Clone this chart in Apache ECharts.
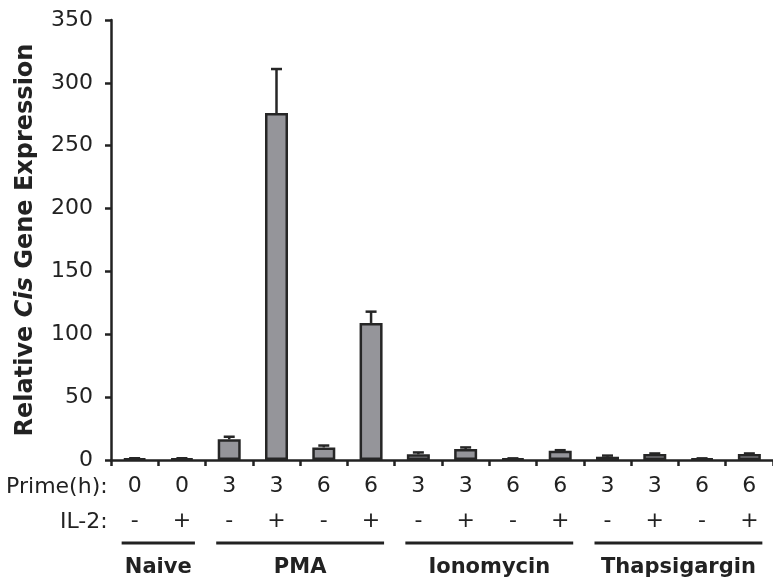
<!DOCTYPE html>
<html><head><meta charset="utf-8">
<script src="https://cdn.jsdelivr.net/npm/echarts@6/dist/echarts.min.js"></script>
<style>html,body{margin:0;padding:0;background:#fff}#c{width:773px;height:582px}</style>
</head><body><div id="c"></div>
<script>
const primeHours = ['0','0','3','3','6','6','3','3','6','6','3','3','6','6'];
const il2 = ['-','+','-','+','-','+','-','+','-','+','-','+','-','+'];
const values = [1, 1, 16.5, 276, 10, 109, 4.5, 8.7, 1, 7.4, 2.6, 4.8, 1, 4.8];
const errors = [0.4, 0.4, 2, 35, 1.5, 9, 1.5, 1.3, 0.3, 0.4, 0.9, 0.4, 0.3, 0.4];
const groupNames = ['Naive', 'PMA', 'Ionomycin', 'Thapsigargin'];
const groupStart = [0, 2, 6, 10];
const groupEnd = [1, 5, 9, 13];
const yTicks = [0, 50, 100, 150, 200, 250, 300, 350];

const categories = primeHours.map((p, i) => i + '');
const ink = '#222';
const font = 'DejaVu Sans';

const chart = echarts.init(document.getElementById('c'));
chart.setOption({
  animation: false,
  grid: {left: 111, top: 20, bottom: 122, right: -5, containLabel: false},
  xAxis: {
    type: 'category', data: categories, boundaryGap: true,
    axisLine: {lineStyle: {color: ink, width: 2.5}},
    axisTick: {show: true, inside: false, length: 6, lineStyle: {color: ink, width: 2.5}},
    axisLabel: {
      margin: 9, interval: 0,
      formatter: (v, i) => '{a|' + primeHours[i] + '}\n{a|' + il2[i] + '}',
      rich: {a: {fontFamily: font, fontSize: 22, color: ink, lineHeight: 35}}
    }
  },
  yAxis: {
    type: 'value', min: 0, max: 350, interval: 50,
    axisLine: {show: true, lineStyle: {color: ink, width: 2.5}},
    axisTick: {show: true, length: 6, lineStyle: {color: ink, width: 2.5}},
    splitLine: {show: false},
    axisLabel: {margin: 18, fontFamily: font, fontSize: 22, color: ink,
      formatter: v => yTicks.indexOf(v) >= 0 ? String(v) : ''},
    name: '{b|Relative }{i|Cis}{b| Gene Expression}',
    nameLocation: 'middle', nameGap: 73, nameRotate: 90,
    nameTextStyle: {
      rich: {
        b: {fontFamily: font, fontWeight: 'bold', fontSize: 24, color: ink},
        i: {fontFamily: font, fontWeight: 'bold', fontStyle: 'italic', fontSize: 24, color: ink}
      }
    }
  },
  series: [
    {type: 'bar', data: values, barWidth: 23,
     itemStyle: {color: '#95959a', borderColor: '#262626', borderWidth: 2.5}},
    {type: 'custom', data: values.map((v, i) => [i, v, v + errors[i]]), z: 1,
     renderItem: (params, api) => {
       const lo = api.coord([api.value(0), api.value(1)]);
       const hi = api.coord([api.value(0), api.value(2)]);
       const st = {stroke: '#262626', lineWidth: 2.5};
       return {type: 'group', children: [
         {type: 'line', shape: {x1: lo[0], y1: lo[1], x2: hi[0], y2: hi[1]}, style: st},
         {type: 'line', shape: {x1: hi[0] - 5.5, y1: hi[1], x2: hi[0] + 5.5, y2: hi[1]}, style: st}
       ]};
     }}
  ]
});

// annotations below the axis, positioned from the chart's own scale
const y0 = chart.convertToPixel({yAxisIndex: 0}, 0);
const xLeft = chart.convertToPixel({xAxisIndex: 0}, categories[0]) - 24;
const elements = [
  {type: 'text', style: {text: 'Prime(h):', x: xLeft - 3, y: y0 + 27, align: 'right', verticalAlign: 'middle',
    font: '22px "DejaVu Sans"', fill: ink}},
  {type: 'text', style: {text: 'IL-2:', x: xLeft - 3, y: y0 + 62, align: 'right', verticalAlign: 'middle',
    font: '22px "DejaVu Sans"', fill: ink}}
];
groupNames.forEach((g, k) => {
  const a = chart.convertToPixel({xAxisIndex: 0}, categories[groupStart[k]]) - 13;
  const b = chart.convertToPixel({xAxisIndex: 0}, categories[groupEnd[k]]) + 13;
  elements.push({type: 'line', shape: {x1: a, y1: y0 + 83, x2: b, y2: y0 + 83},
    style: {stroke: ink, lineWidth: 3}});
  elements.push({type: 'text', style: {text: g, x: (a + b) / 2, y: y0 + 108, align: 'center',
    verticalAlign: 'middle', font: 'bold 21px "DejaVu Sans"', fill: ink}});
});
chart.setOption({graphic: elements});
</script></body></html>
